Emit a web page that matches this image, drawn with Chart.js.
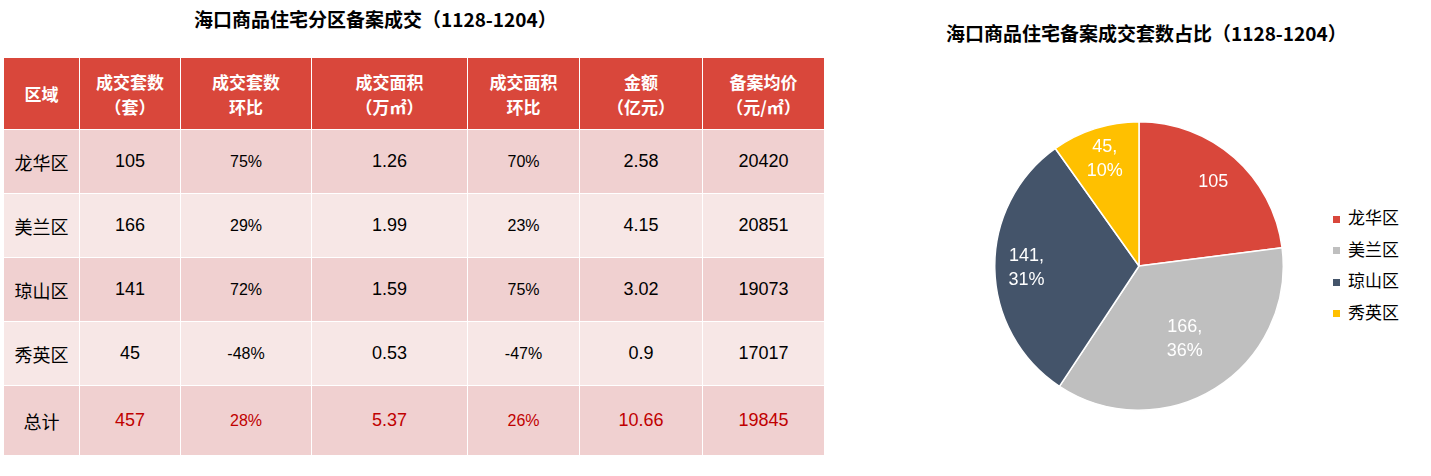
<!DOCTYPE html>
<html><head><meta charset="utf-8">
<script src="https://cdn.jsdelivr.net/npm/chart.js@4"></script>
<style>
body{margin:0;width:1431px;height:476px;background:#fff;font-family:"Noto Sans CJK SC",sans-serif;position:relative;overflow:hidden}
.t{position:absolute;font-weight:bold;font-size:19px;color:#000;white-space:nowrap}
table{position:absolute;left:3px;top:57px;border-collapse:collapse;font-size:18px;font-family:"Liberation Sans","Noto Sans CJK SC",sans-serif}
td,th{text-align:center;border:1px solid #fff;padding:0}
th{background:#d9473b;color:#fff;height:71px;font-size:17px;font-family:"Noto Sans CJK SC";line-height:25px}
tr.a td{background:#f0d0d0}
tr.b td{background:#f7e7e6}
td{height:63px}
td.s{font-size:16px}
tr.tot td{color:#c00000;height:69px}
tr.tot td:first-child{color:#000}
#lg{position:absolute;left:1333px;top:201px;font-size:17px;line-height:31.5px}
#lg span{display:inline-block;width:7px;height:7px;margin-right:8px;vertical-align:middle}
</style></head><body>
<div class="t" style="left:194px;top:5px">海口商品住宅分区备案成交（1128-1204）</div>
<div class="t" style="left:946px;top:19px">海口商品住宅备案成交套数占比（1128-1204）</div>
<table id="tb"></table>
<div style="position:absolute;left:994px;top:121px;width:290px;height:290px"><canvas id="pie"></canvas></div>
<div id="lg"></div>
<script>
const headers = ['区域','成交套数<br>（套）','成交套数<br>环比','成交面积<br>（万㎡）','成交面积<br>环比','金额<br>（亿元）','备案均价<br>（元/㎡）'];
const colWidths = [75,100,130,155,111,122,121];
const districts = ['龙华区','美兰区','琼山区','秀英区','总计'];
const units = [105,166,141,45,457];
const unitsChg = ['75%','29%','72%','-48%','28%'];
const area = ['1.26','1.99','1.59','0.53','5.37'];
const areaChg = ['70%','23%','75%','-47%','26%'];
const amount = ['2.58','4.15','3.02','0.9','10.66'];
const price = [20420,20851,19073,17017,19845];
const pieLabels = ['105','166,\n36%','141,\n31%','45,\n10%'];
const pieColors = ['#d9473b','#bfbfbf','#44546a','#ffc000'];

let h = '<tr>' + headers.map((x,i)=>`<th style="width:${colWidths[i]}px">${x}</th>`).join('') + '</tr>';
districts.forEach((d,i)=>{
  const cls = i===4 ? 'a tot' : (i%2===0 ? 'a' : 'b');
  h += `<tr class="${cls}"><td style="font-family:'Noto Sans CJK SC'">${d}</td><td>${units[i]}</td><td class="s">${unitsChg[i]}</td><td>${area[i]}</td><td class="s">${areaChg[i]}</td><td>${amount[i]}</td><td>${price[i]}</td></tr>`;
});
document.getElementById('tb').innerHTML = h;
document.getElementById('lg').innerHTML = districts.slice(0,4).map((d,i)=>`<div><span style="background:${pieColors[i]}"></span>${d}</div>`).join('');

const labelPlugin = {
  id:'lbl',
  afterDatasetsDraw(chart){
    const ctx = chart.ctx;
    const meta = chart.getDatasetMeta(0);
    ctx.save();
    ctx.fillStyle = '#fff';
    ctx.font = '18px "Liberation Sans", sans-serif';
    ctx.textAlign = 'center'; ctx.textBaseline = 'middle';
    meta.data.forEach((arc,i)=>{
      const p = arc.getProps(['x','y','startAngle','endAngle','outerRadius'],true);
      const a = (p.startAngle+p.endAngle)/2;
      const r = p.outerRadius*(i===1?0.6:0.78);
      const lines = pieLabels[i].split('\n');
      lines.forEach((l,j)=>ctx.fillText(l, p.x+Math.cos(a)*r, p.y+Math.sin(a)*r+(j-(lines.length-1)/2)*24));
    });
    ctx.restore();
  }
};
new Chart(document.getElementById('pie'),{
  type:'pie',
  data:{labels:districts.slice(0,4),datasets:[{data:units.slice(0,4),backgroundColor:pieColors,borderColor:'#fff',borderWidth:1.5}]},
  options:{responsive:true,maintainAspectRatio:false,animation:false,
    plugins:{legend:{display:false},tooltip:{enabled:false}}},
  plugins:[labelPlugin]
});
</script>
</body></html>
